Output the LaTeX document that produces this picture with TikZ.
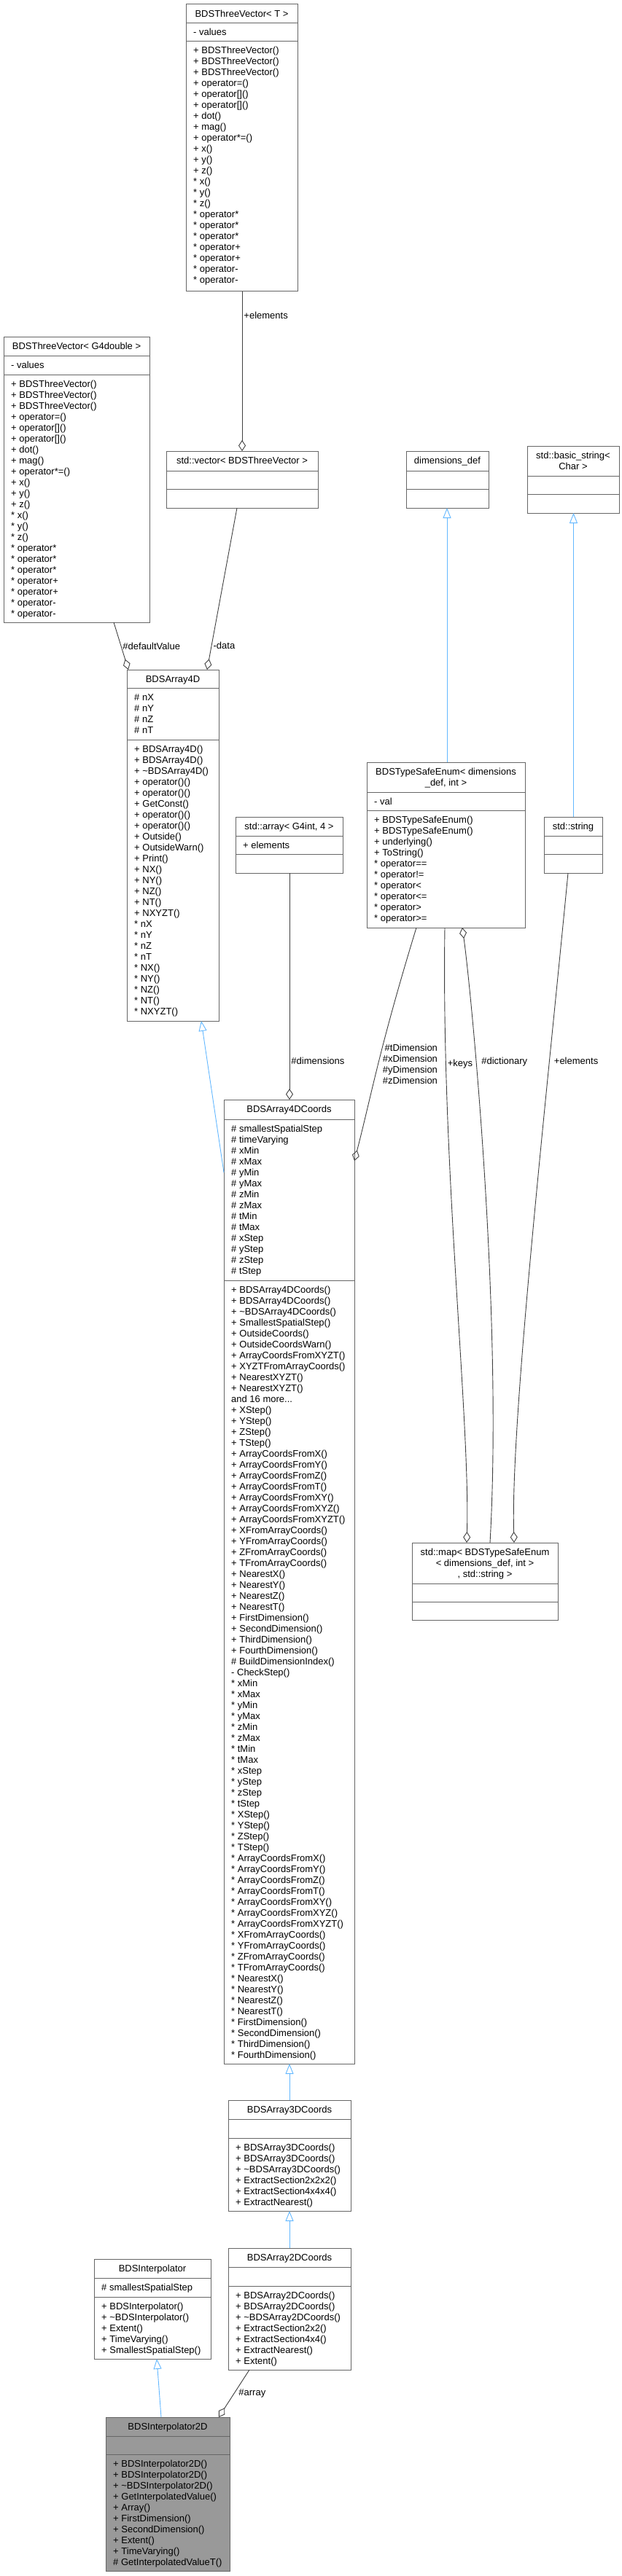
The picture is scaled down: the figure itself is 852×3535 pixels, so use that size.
\documentclass[tikz,border=0pt]{standalone}
\usepackage{fontspec}
\setmainfont{Liberation Sans}
\usepackage{tikz}
\usetikzlibrary{arrows.meta, calc}

\definecolor{nodegrey}{HTML}{666666}
\definecolor{edgegrey}{HTML}{404040}
\definecolor{inheritblue}{HTML}{63B8FF}
\definecolor{focusgrey}{HTML}{999999}

\tikzset{
	classbox/.style={
		draw=nodegrey,
		fill=white,
		line width=1pt,
		rectangle,
		anchor=north west,
		inner sep=0pt,
		outer sep=0pt
	},
	classline/.style={
		draw=nodegrey,
		line width=1pt
	},
	classtitle/.style={
		align=center,
		anchor=north,
		inner sep=0pt
	},
	member/.style={
		anchor=base west,
		inner sep=0pt
	},
	edgelabel/.style={
		anchor=west,
		inner sep=2pt,
		text=black
	},
	aggregate/.style={
		draw=edgegrey,
		line width=.9pt,
		arrows={Diamond[open, length=15pt, width=10pt]-}
	},
	inherit/.style={
		draw=inheritblue,
		line width=.9pt,
		arrows={-Triangle[open, length=14pt, width=11pt]}
	}
}

% #1 name, #2 top left, #3 width, #4 title, #5 title height,
% #6 attributes, #7 attribute height, #8 methods, #9 total height
\newcommand{\umlclass}[9]{%
	\node[classbox, minimum width=#3pt, minimum height=#9pt] (#1) at (#2) {};
	\node[classtitle] (#1-title) at ([yshift=-7.5pt]#1.north) {\rule{0pt}{10pt}#4};
	\draw[classline] ([yshift=-#5pt]#1.north west) -- ([yshift=-#5pt]#1.north east);
	\draw[classline] ([yshift=-#5pt-#7pt]#1.north west) -- ([yshift=-#5pt-#7pt]#1.north east);
	\foreach [count=\i] \m in {#6}
		\node[member] (#1-a\i) at ([xshift=10pt, yshift={-(#5+17+15*(\i-1))*1pt}]#1.north west) {\m};
	\foreach [count=\i] \m in {#8}
		\node[member] (#1-m\i) at ([xshift=10pt, yshift={-(#5+#7+17+15*(\i-1))*1pt}]#1.north west) {\m};
}

\begin{document}
\begin{tikzpicture}[x=1pt, y=-1pt, font=\fontsize{13pt}{15pt}\selectfont]
\fill[white] (0,0) rectangle (852,3535);
\useasboundingbox (0,0) rectangle (852,3535);

% ---
% Classes
% ---
\umlclass{tvec}{255,5.5}{153}{BDSThreeVector< T >}{26}{- values}{25}{%
	+ BDSThreeVector(), + BDSThreeVector(), + BDSThreeVector(), + operator=(),
	+ operator[](), + operator[](), + dot(), + mag(), + operator*=(), + x(), + y(), + z(),
	* x(), * y(), * z(), * operator*, * operator*, * operator*, * operator+, * operator+,
	* operator-, * operator-}{394}
\umlclass{g4vec}{5,462}{200}{BDSThreeVector< G4double >}{26}{- values}{26}{%
	+ BDSThreeVector(), + BDSThreeVector(), + BDSThreeVector(), + operator=(),
	+ operator[](), + operator[](), + dot(), + mag(), + operator*=(), + x(), + y(), + z(),
	* x(), * y(), * z(), * operator*, * operator*, * operator*, * operator+, * operator+,
	* operator-, * operator-}{392}
\umlclass{vec}{228,619}{208}{std::vector< BDSThreeVector >}{27}{}{25}{}{78}
\umlclass{dimdef}{557,619}{113}{dimensions\_def}{27}{}{25}{}{78}
\umlclass{bstr}{723,612}{126}{std::basic\_string<\\Char >}{41}{}{25}{}{92}
\umlclass{arr4d}{174,919}{126}{BDSArray4D}{25}{\# nX, \# nY, \# nZ, \# nT}{71}{%
	+ BDSArray4D(), + BDSArray4D(), + \textasciitilde BDSArray4D(), + operator()(),
	+ operator()(), + GetConst(), + operator()(), + operator()(), + Outside(),
	+ OutsideWarn(), + Print(), + NX(), + NY(), + NZ(), + NT(), + NXYZT(),
	* nX, * nY, * nZ, * nT, * NX(), * NY(), * NZ(), * NT(), * NXYZT()}{482}
\umlclass{tse}{503,1046}{217}{BDSTypeSafeEnum< dimensions\\\_def, int >}{41}{- val}{25}{%
	+ BDSTypeSafeEnum(), + BDSTypeSafeEnum(), + underlying(), + ToString(),
	* operator==, * operator!=, * operator<, * operator<=, * operator>, * operator>=}{227}
\umlclass{sarr}{323,1121}{147}{std::array< G4int, 4 >}{26}{+ elements}{25}{}{77}
\umlclass{stdstr}{746,1121}{80}{std::string}{26}{}{25}{}{77}
\umlclass{c4d}{307,1509}{179}{BDSArray4DCoords}{27}{%
	\# smallestSpatialStep, \# timeVarying, \# xMin, \# xMax, \# yMin, \# yMax,
	\# zMin, \# zMax, \# tMin, \# tMax, \# xStep, \# yStep, \# zStep, \# tStep}{221}{%
	+ BDSArray4DCoords(), + BDSArray4DCoords(), + \textasciitilde BDSArray4DCoords(),
	+ SmallestSpatialStep(), + OutsideCoords(), + OutsideCoordsWarn(),
	+ ArrayCoordsFromXYZT(), + XYZTFromArrayCoords(), + NearestXYZT(), + NearestXYZT(),
	and 16 more.{}.{}., + XStep(), + YStep(), + ZStep(), + TStep(),
	+ ArrayCoordsFromX(), + ArrayCoordsFromY(), + ArrayCoordsFromZ(), + ArrayCoordsFromT(),
	+ ArrayCoordsFromXY(), + ArrayCoordsFromXYZ(), + ArrayCoordsFromXYZT(),
	+ XFromArrayCoords(), + YFromArrayCoords(), + ZFromArrayCoords(), + TFromArrayCoords(),
	+ NearestX(), + NearestY(), + NearestZ(), + NearestT(),
	+ FirstDimension(), + SecondDimension(), + ThirdDimension(), + FourthDimension(),
	\# BuildDimensionIndex(), - CheckStep(),
	* xMin, * xMax, * yMin, * yMax, * zMin, * zMax, * tMin, * tMax,
	* xStep, * yStep, * zStep, * tStep, * XStep(), * YStep(), * ZStep(), * TStep(),
	* ArrayCoordsFromX(), * ArrayCoordsFromY(), * ArrayCoordsFromZ(), * ArrayCoordsFromT(),
	* ArrayCoordsFromXY(), * ArrayCoordsFromXYZ(), * ArrayCoordsFromXYZT(),
	* XFromArrayCoords(), * YFromArrayCoords(), * ZFromArrayCoords(), * TFromArrayCoords(),
	* NearestX(), * NearestY(), * NearestZ(), * NearestT(),
	* FirstDimension(), * SecondDimension(), * ThirdDimension(), * FourthDimension()}{1323}
\umlclass{map}{565,2117}{200}{std::map< BDSTypeSafeEnum\\< dimensions\_def, int >\\, std::string >}{56}{}{25}{}{106}
\umlclass{c3d}{313,2882}{168}{BDSArray3DCoords}{26}{}{26}{%
	+ BDSArray3DCoords(), + BDSArray3DCoords(), + \textasciitilde BDSArray3DCoords(),
	+ ExtractSection2x2x2(), + ExtractSection4x4x4(), + ExtractNearest()}{152}
\umlclass{c2d}{313,3085}{168}{BDSArray2DCoords}{26}{}{26}{%
	+ BDSArray2DCoords(), + BDSArray2DCoords(), + \textasciitilde BDSArray2DCoords(),
	+ ExtractSection2x2(), + ExtractSection4x4(), + ExtractNearest(), + Extent()}{167}
\umlclass{interp}{129,3100}{160}{BDSInterpolator}{26}{\# smallestSpatialStep}{26}{%
	+ BDSInterpolator(), + \textasciitilde BDSInterpolator(), + Extent(),
	+ TimeVarying(), + SmallestSpatialStep()}{137}
\begin{scope}[classbox/.append style={fill=focusgrey}]
\umlclass{interp2d}{145,3317}{170}{BDSInterpolator2D}{26}{}{25}{%
	+ BDSInterpolator2D(), + BDSInterpolator2D(), + \textasciitilde BDSInterpolator2D(),
	+ GetInterpolatedValue(), + Array(), + FirstDimension(), + SecondDimension(),
	+ Extent(), + TimeVarying(), \# GetInterpolatedValueT()}{211}
\end{scope}

% ---
% Members
% ---
\draw[aggregate] ([xshift=104pt]vec.north west) -- node[edgelabel, pos=0.85] {+elements} ([xshift=77pt]tvec.south west);
\draw[aggregate] ([xshift=2pt]arr4d.north west) -- node[edgelabel, pos=0.5] {\#defaultValue} ([xshift=151pt]g4vec.south west);
\draw[aggregate] ([xshift=110pt]arr4d.north west) -- node[edgelabel, pos=0.15] {-data} ([xshift=97pt]vec.south west);
\draw[aggregate] ([xshift=90pt]c4d.north west) -- node[edgelabel, pos=0.17] {\#dimensions} ([xshift=74pt]sarr.south west);
\draw[aggregate] ([yshift=-84pt]c4d.north east) .. controls (510,1500) and (520,1440) .. node[edgelabel, pos=0.5, xshift=4pt, align=right] {\#tDimension\\\#xDimension\\\#yDimension\\\#zDimension} ([xshift=68pt]tse.south west);
\draw[aggregate] ([xshift=75pt]map.north west) .. controls (645,1950) and (605,1600) .. node[edgelabel, pos=0.81] {+keys} ([xshift=107pt]tse.south west);
\draw[aggregate] ([xshift=131pt]tse.south west) .. controls (645,1350) and (690,1800) .. node[edgelabel, pos=0.335, xshift=5pt] {\#dictionary} ([xshift=107pt]map.north west);
\draw[aggregate] ([xshift=140pt]map.north west) .. controls (700,1950) and (750,1500) .. node[edgelabel, pos=0.74, xshift=4pt] {+elements} ([xshift=33pt]stdstr.south west);
\draw[aggregate] ([xshift=-15pt]interp2d.north east) -- node[edgelabel, pos=0.5, xshift=4pt] {\#array} ([xshift=29pt]c2d.south west);

% ---
% Inheritance
% ---
\draw[inherit] ([xshift=110pt]tse.north west) -- ([xshift=56pt]dimdef.south west);
\draw[inherit] ([xshift=40.5pt]stdstr.north west) -- ([xshift=63.5pt]bstr.south west);
\draw[inherit] ([yshift=-100pt]c4d.north west) -- ([xshift=102pt]arr4d.south west);
\draw[inherit] ([xshift=84pt]c3d.north west) -- ([xshift=90pt]c4d.south west);
\draw[inherit] ([xshift=84pt]c2d.north west) -- ([xshift=84pt]c3d.south west);
\draw[inherit] ([xshift=76pt]interp2d.north west) -- ([xshift=86pt]interp.south west);
\end{tikzpicture}
\end{document}
